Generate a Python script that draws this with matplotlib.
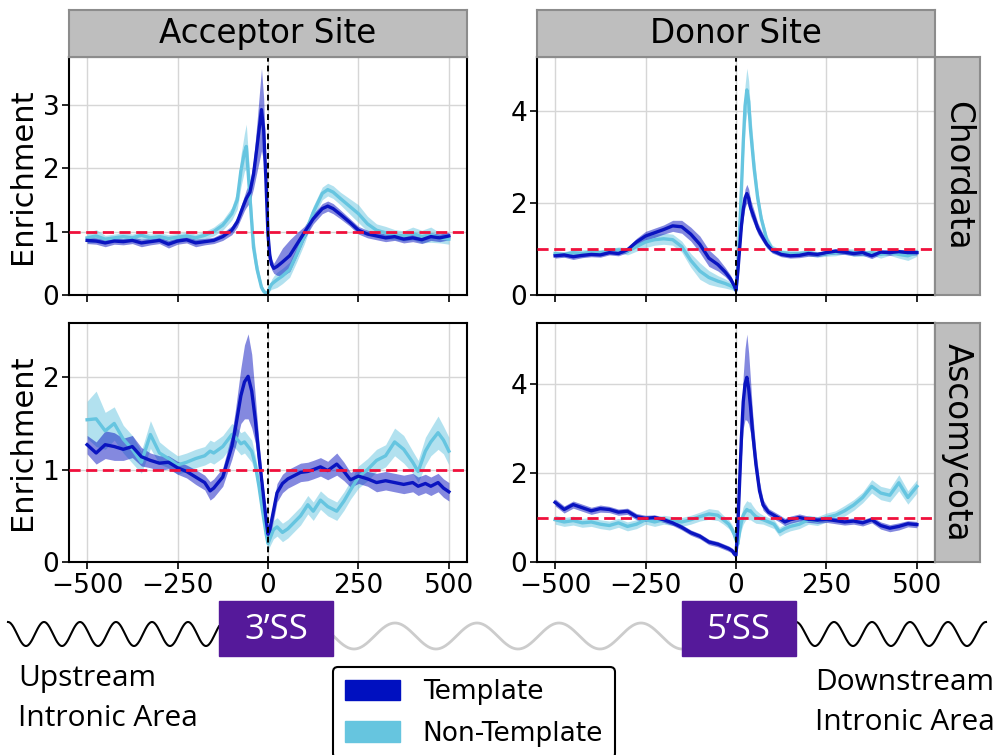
import numpy as np
import matplotlib
matplotlib.use("Agg")
import matplotlib.pyplot as plt
from matplotlib.patches import Patch, Rectangle

# ---- data (position relative to splice site, enrichment) ----
acc_chor_x = [-500, -475, -450, -425, -400, -375, -350, -325, -300, -275, -250, -225, -200, -175, -150, -125, -100,
              -85, -75, -65, -60, -50, -40, -30, -18, -12, -6, 0,
              5, 10, 16, 25, 40, 60, 80, 100,
              125, 150, 165, 180, 200,
              225, 250, 275, 300, 325, 350, 375, 400, 425, 450, 475, 500]
acc_chor_t = [0.86, 0.85, 0.82, 0.85, 0.84, 0.86, 0.82, 0.84, 0.86, 0.80, 0.85, 0.87, 0.82, 0.84, 0.86, 0.92, 1.02,
              1.15, 1.30, 1.45, 1.52, 1.62, 1.90, 2.35, 2.92, 2.60, 1.85, 0.95,
              0.62, 0.48, 0.42, 0.45, 0.52, 0.62, 0.80, 0.98,
              1.20, 1.36, 1.40, 1.36, 1.27,
              1.15, 1.02, 0.96, 0.93, 0.90, 0.92, 0.88, 0.90, 0.87, 0.92, 0.90, 0.93]
acc_chor_t_err = [0.05, 0.05, 0.06, 0.05, 0.05, 0.05, 0.06, 0.05, 0.05, 0.06, 0.05, 0.05, 0.06, 0.05, 0.05, 0.06, 0.07,
                  0.08, 0.10, 0.12, 0.14, 0.16, 0.22, 0.40, 0.65, 0.50, 0.30, 0.15,
                  0.10, 0.08, 0.08, 0.14, 0.22, 0.25, 0.18, 0.10,
                  0.08, 0.08, 0.08, 0.08, 0.07,
                  0.06, 0.06, 0.06, 0.06, 0.06, 0.06, 0.06, 0.06, 0.06, 0.06, 0.06, 0.06]
acc_chor_nt = [0.90, 0.93, 0.88, 0.90, 0.92, 0.90, 0.94, 0.90, 0.92, 0.89, 0.91, 0.93, 0.90, 0.94, 1.00, 1.10, 1.28,
               1.50, 1.95, 2.25, 2.34, 1.55, 0.75, 0.40, 0.12, 0.06, 0.03, 0.04,
               0.12, 0.17, 0.20, 0.24, 0.30, 0.40, 0.65, 0.92,
               1.30, 1.60, 1.66, 1.62, 1.52,
               1.40, 1.28, 1.12, 1.02, 0.98, 0.95, 0.93, 0.97, 0.92, 0.95, 0.90, 0.88]
acc_chor_nt_err = [0.08, 0.10, 0.06, 0.06, 0.06, 0.06, 0.06, 0.06, 0.06, 0.06, 0.06, 0.06, 0.06, 0.06, 0.07, 0.08, 0.10,
                   0.15, 0.25, 0.30, 0.35, 0.30, 0.20, 0.12, 0.06, 0.04, 0.03, 0.03,
                   0.05, 0.08, 0.10, 0.12, 0.12, 0.12, 0.12, 0.12,
                   0.10, 0.10, 0.10, 0.10, 0.10,
                   0.12, 0.14, 0.12, 0.10, 0.10, 0.08, 0.08, 0.10, 0.10, 0.12, 0.08, 0.08]

don_chor_x = [-500, -475, -450, -425, -400, -375, -350, -325, -300, -275, -250, -225, -200, -175, -150,
              -125, -100, -75, -50, -30, -15, -5, 0,
              5, 10, 15, 20, 25, 30, 35, 40, 50, 60, 70, 85, 100,
              125, 150, 175, 200, 225, 250, 275, 300, 325, 350, 375, 400, 425, 450, 475, 500]
don_chor_t = [0.85, 0.87, 0.83, 0.86, 0.88, 0.87, 0.92, 0.90, 0.98, 1.15, 1.28, 1.35, 1.42, 1.50, 1.48,
              1.32, 1.10, 0.80, 0.66, 0.50, 0.35, 0.20, 0.10,
              0.50, 1.00, 1.50, 1.85, 2.10, 2.20, 2.10, 1.90, 1.68, 1.45, 1.30, 1.10, 0.97,
              0.88, 0.85, 0.86, 0.90, 0.88, 0.92, 0.95, 0.93, 0.90, 0.92, 0.85, 0.93, 0.92, 0.94, 0.92, 0.92]
don_chor_t_err = [0.05, 0.05, 0.06, 0.05, 0.05, 0.05, 0.05, 0.05, 0.06, 0.08, 0.10, 0.10, 0.10, 0.12, 0.14,
                  0.15, 0.18, 0.18, 0.14, 0.10, 0.08, 0.05, 0.05,
                  0.10, 0.12, 0.15, 0.18, 0.20, 0.20, 0.20, 0.18, 0.15, 0.12, 0.10, 0.08, 0.06,
                  0.05, 0.05, 0.05, 0.06, 0.05, 0.05, 0.06, 0.05, 0.05, 0.06, 0.06, 0.05, 0.06, 0.05, 0.06, 0.05]
don_chor_nt = [0.90, 0.88, 0.92, 0.90, 0.93, 0.92, 0.95, 0.98, 0.95, 1.05, 1.15, 1.20, 1.22, 1.20, 1.05,
               0.75, 0.52, 0.38, 0.30, 0.25, 0.20, 0.15, 0.10,
               0.60, 1.40, 2.30, 3.30, 4.10, 4.45, 4.20, 3.60, 2.75, 2.10, 1.65, 1.20, 1.00,
               0.92, 0.90, 0.90, 0.92, 0.88, 0.90, 0.92, 0.95, 0.92, 0.90, 0.92, 0.88, 0.92, 0.88, 0.85, 0.92]
don_chor_nt_err = [0.06, 0.06, 0.06, 0.08, 0.06, 0.06, 0.06, 0.06, 0.08, 0.10, 0.12, 0.12, 0.12, 0.12, 0.12,
                   0.15, 0.18, 0.15, 0.12, 0.10, 0.08, 0.06, 0.05,
                   0.10, 0.20, 0.30, 0.40, 0.45, 0.47, 0.45, 0.40, 0.30, 0.20, 0.12, 0.10, 0.08,
                   0.06, 0.06, 0.06, 0.07, 0.06, 0.06, 0.07, 0.06, 0.08, 0.06, 0.06, 0.08, 0.06, 0.08, 0.10, 0.08]

acc_asco_x = [-500, -475, -450, -425, -400, -375, -350, -325, -300, -275, -250, -225, -200, -175,
              -160, -150, -125, -100, -90, -75, -65, -55, -45, -35, -25, -15, -5, 0,
              5, 15, 25, 40, 55, 70, 90, 110, 125, 145, 165, 190, 210, 228,
              250, 275, 300, 325, 350, 375, 400,
              415, 435, 450, 470, 485, 500]
acc_asco_t = [1.27, 1.18, 1.27, 1.25, 1.22, 1.25, 1.14, 1.10, 1.07, 1.08, 1.02, 0.98, 0.92, 0.86,
              0.77, 0.80, 0.92, 1.25, 1.45, 1.80, 1.95, 2.01, 1.85, 1.54, 1.15, 0.80, 0.45, 0.30,
              0.35, 0.55, 0.75, 0.85, 0.90, 0.93, 0.97, 0.98, 1.00, 1.03, 0.99, 1.06, 0.98, 0.89,
              0.93, 0.90, 0.86, 0.88, 0.86, 0.84, 0.86,
              0.82, 0.85, 0.82, 0.86, 0.80, 0.76]
acc_asco_t_err = [0.10, 0.12, 0.15, 0.15, 0.12, 0.12, 0.10, 0.08, 0.08, 0.07, 0.07, 0.07, 0.08, 0.08,
                  0.10, 0.10, 0.10, 0.14, 0.20, 0.30, 0.40, 0.46, 0.40, 0.25, 0.15, 0.10, 0.08, 0.08,
                  0.08, 0.10, 0.10, 0.10, 0.10, 0.10, 0.10, 0.10, 0.10, 0.10, 0.10, 0.12, 0.10, 0.08,
                  0.08, 0.08, 0.10, 0.10, 0.10, 0.10, 0.10,
                  0.10, 0.10, 0.10, 0.10, 0.10, 0.10]
acc_asco_nt = [1.54, 1.55, 1.42, 1.50, 1.33, 1.22, 1.08, 1.38, 1.18, 1.12, 1.05, 1.08, 1.12, 1.15,
               1.20, 1.18, 1.25, 1.38, 1.35, 1.28, 1.30, 1.25, 1.20, 1.05, 0.82, 0.55, 0.30, 0.20,
               0.25, 0.35, 0.38, 0.32, 0.36, 0.42, 0.50, 0.62, 0.55, 0.67, 0.60, 0.55, 0.66, 0.78,
               0.92, 1.00, 1.10, 1.15, 1.30, 1.22, 1.08,
               0.98, 1.20, 1.30, 1.40, 1.32, 1.20]
acc_asco_nt_err = [0.20, 0.30, 0.20, 0.18, 0.15, 0.15, 0.12, 0.15, 0.12, 0.10, 0.10, 0.10, 0.10, 0.10,
                   0.12, 0.12, 0.12, 0.12, 0.12, 0.12, 0.12, 0.12, 0.12, 0.10, 0.10, 0.08, 0.08, 0.08,
                   0.08, 0.10, 0.10, 0.10, 0.10, 0.10, 0.10, 0.10, 0.10, 0.10, 0.10, 0.10, 0.10, 0.10,
                   0.12, 0.12, 0.12, 0.12, 0.15, 0.15, 0.12,
                   0.12, 0.15, 0.15, 0.18, 0.15, 0.15]

don_asco_x = [-500, -475, -450, -425, -400, -375, -350, -325, -300, -275, -250, -225, -200, -175, -150, -125, -100, -75, -50,
              -35, -20, -10, -5, 0,
              5, 10, 15, 20, 25, 30, 35, 40, 45,
              55, 65, 75, 90, 105, 120, 135, 150,
              175, 200, 225, 250, 275, 300, 325, 350, 375, 400, 425, 450, 475, 500]
don_asco_t = [1.34, 1.18, 1.29, 1.22, 1.15, 1.20, 1.18, 1.12, 1.14, 1.02, 0.98, 1.00, 0.95, 0.88, 0.78, 0.66, 0.58, 0.45, 0.40,
              0.35, 0.30, 0.25, 0.18, 0.15,
              0.80, 1.80, 2.80, 3.60, 4.00, 4.15, 3.90, 3.50, 3.00,
              2.20, 1.60, 1.28, 1.12, 1.05, 0.98, 0.90, 0.95,
              1.00, 0.96, 0.94, 0.96, 0.93, 0.90, 0.92, 0.88, 0.95, 0.82, 0.76, 0.80, 0.86, 0.84]
don_asco_t_err = [0.08, 0.08, 0.08, 0.08, 0.08, 0.08, 0.07, 0.07, 0.07, 0.07, 0.07, 0.06, 0.06, 0.06, 0.06, 0.06, 0.06, 0.06, 0.06,
                  0.06, 0.06, 0.06, 0.06, 0.05,
                  0.15, 0.30, 0.45, 0.60, 0.80, 0.97, 0.80, 0.60, 0.45,
                  0.30, 0.20, 0.12, 0.08, 0.08, 0.08, 0.08, 0.08,
                  0.08, 0.07, 0.07, 0.07, 0.07, 0.07, 0.07, 0.07, 0.07, 0.08, 0.08, 0.08, 0.07, 0.07]
don_asco_nt = [0.95, 0.90, 0.93, 0.88, 0.90, 0.85, 0.82, 0.88, 0.80, 0.85, 0.95, 0.90, 0.95, 0.92, 0.90, 0.95, 1.02, 1.08, 1.05,
               0.95, 0.85, 0.72, 0.62, 0.50,
               0.40, 0.70, 0.90, 1.05, 1.12, 1.18, 1.15, 1.15, 1.10,
               1.02, 0.98, 0.95, 0.90, 0.85, 0.68, 0.75, 0.80,
               0.85, 0.95, 0.92, 1.00, 1.05, 1.15, 1.28, 1.45, 1.70, 1.55, 1.50, 1.78, 1.45, 1.70]
don_asco_nt_err = [0.10, 0.10, 0.10, 0.10, 0.10, 0.10, 0.10, 0.10, 0.10, 0.10, 0.10, 0.10, 0.10, 0.10, 0.10, 0.10, 0.10, 0.12, 0.12,
                   0.10, 0.10, 0.10, 0.10, 0.10,
                   0.10, 0.15, 0.18, 0.20, 0.20, 0.20, 0.20, 0.20, 0.18,
                   0.15, 0.12, 0.10, 0.10, 0.10, 0.10, 0.10, 0.10,
                   0.10, 0.10, 0.10, 0.10, 0.10, 0.12, 0.12, 0.12, 0.15, 0.15, 0.15, 0.18, 0.15, 0.15]

col_titles = ["Acceptor Site", "Donor Site"]
row_titles = ["Chordata", "Ascomycota"]
x_ticks = [-500, -250, 0, 250, 500]
y_ticks = [[0, 1, 2, 3], [0, 2, 4], [0, 1, 2], [0, 2, 4]]
series_names = ["Template", "Non-Template"]

T_LINE = "#0A14C0"
T_FILL = "#0A14C0"
NT_LINE = "#66C5E0"
NT_FILL = "#66C5E0"
BOX = "#55199A"

panels = [
    (acc_chor_x, acc_chor_t, acc_chor_t_err, acc_chor_nt, acc_chor_nt_err),
    (don_chor_x, don_chor_t, don_chor_t_err, don_chor_nt, don_chor_nt_err),
    (acc_asco_x, acc_asco_t, acc_asco_t_err, acc_asco_nt, acc_asco_nt_err),
    (don_asco_x, don_asco_t, don_asco_t_err, don_asco_nt, don_asco_nt_err),
]

W, H = 1004, 755
fig = plt.figure(figsize=(W / 100, H / 100), dpi=100)

# pixel boxes (left, top, right, bottom)
ax_px = [(69, 57, 467, 295), (537, 57, 935, 295), (69, 323, 467, 562), (537, 323, 935, 562)]


def frac(l, t, r, b):
    return [l / W, 1 - b / H, (r - l) / W, (b - t) / H]


def strip(l, t, r, b, label, rot):
    st = fig.add_axes(frac(l, t, r, b))
    st.set_facecolor("#BEBEBE")
    st.set_xticks([])
    st.set_yticks([])
    for s in st.spines.values():
        s.set_color("#8C8C8C")
        s.set_linewidth(1.5)
    st.text(0.5, 0.5, label, ha="center", va="center", rotation=rot,
            fontsize=23.5, transform=st.transAxes)


# background overlay for the splice-site diagram
deco = fig.add_axes([0, 0, 1, 1])
deco.set_xlim(0, W)
deco.set_ylim(H, 0)
deco.axis("off")

for i, (x, t, te, nt, nte) in enumerate(panels):
    ax = fig.add_axes(frac(*ax_px[i]))
    x = np.array(x)
    t, te, nt, nte = map(np.array, (t, te, nt, nte))
    ax.fill_between(x, nt - nte, nt + nte, color=NT_FILL, alpha=0.5, lw=0)
    ax.plot(x, nt, color=NT_LINE, lw=2.4)
    ax.fill_between(x, t - te, t + te, color=T_FILL, alpha=0.5, lw=0)
    ax.plot(x, t, color=T_LINE, lw=2.4)
    ax.axhline(1, color="#F0103C", lw=2, ls=(0, (4, 2)), zorder=5)
    ax.axvline(0, color="black", lw=1.4, ls=(0, (3, 2)), zorder=5)
    ax.set_ylim(bottom=0)
    ax.set_xticks(x_ticks)
    ax.set_yticks(y_ticks[i])
    ax.grid(True, color="#D6D6D6", lw=1)
    ax.set_axisbelow(True)
    ax.tick_params(labelsize=19, length=5, width=1.2)
    ax.tick_params(axis="x", pad=3)
    ax.tick_params(axis="y", pad=2)
    for s in ax.spines.values():
        s.set_linewidth(1.5)
    if i < 2:
        ax.tick_params(labelbottom=False)
        strip(ax_px[i][0], 10, ax_px[i][2], 57, col_titles[i], 0)
    if i % 2 == 0:
        ax.set_ylabel("Enrichment", fontsize=22, labelpad=4)
    else:
        strip(935, ax_px[i][1], 980, ax_px[i][3], row_titles[i // 2], 270)

# splice-site sketch below the panels
wx = np.linspace(8, 219, 300)
deco.plot(wx, 634 - 12 * np.cos(2 * np.pi * (wx - 8) / 36), color="black", lw=1.5)
wx = np.linspace(333, 682, 400)
deco.plot(wx, 636 - 13 * np.cos(2 * np.pi * (wx - 395) / 82), color="#CCCCCC", lw=2)
wx = np.linspace(796, 986, 300)
deco.plot(wx, 634 - 12 * np.cos(2 * np.pi * (wx - 796) / 38), color="black", lw=1.5)

deco.add_patch(Rectangle((219, 601), 114, 55, color=BOX, zorder=3))
deco.add_patch(Rectangle((682, 601), 114, 55, color=BOX, zorder=3))
deco.text(276, 630, "3\u2019SS", color="white", fontsize=25, family="Open Sans",
          ha="center", va="center", zorder=4)
deco.text(739, 630, "5\u2019SS", color="white", fontsize=25, family="Open Sans",
          ha="center", va="center", zorder=4)

deco.text(18, 686, "Upstream", fontsize=21.5, family="Open Sans", va="baseline")
deco.text(18, 726, "Intronic Area", fontsize=21.5, family="Open Sans", va="baseline")
deco.text(815, 690, "Downstream", fontsize=21.5, family="Open Sans", va="baseline")
deco.text(815, 730, "Intronic Area", fontsize=21.5, family="Open Sans", va="baseline")

handles = [Patch(color="#0010C0"), Patch(color="#66C5DF")]
leg = fig.legend(handles, series_names, loc="upper left", bbox_to_anchor=(333 / W, 1 - 667 / H),
                 fontsize=19, frameon=True, fancybox=True, framealpha=1, edgecolor="black",
                 handlelength=2.1, handleheight=0.8, handletextpad=0.85, labelspacing=0.6,
                 borderpad=0.45, borderaxespad=0)
leg.get_frame().set_linewidth(1.5)

fig.savefig("out.png", dpi=100)
